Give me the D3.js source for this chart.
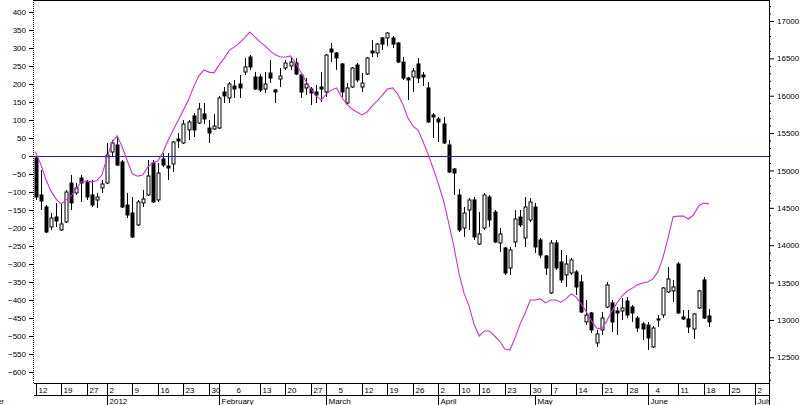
<!DOCTYPE html>
<html lang="en">
  <head>
    <meta charset="UTF-8" />
    <title>Candlestick chart with oscillator</title>
    <script src="https://cdnjs.cloudflare.com/ajax/libs/d3/7.8.5/d3.min.js"></script>
    <style>
      body {
        margin: 0;
        background-color: #fff;
      }
      svg {
        display: block;
        font-family: "Liberation Sans", Arial, sans-serif;
      }
      .date-label {
        font-size: 8px;
        fill: #000;
      }
    </style>
  </head>
  <body>
    <div id="chart"></div>

    <script>
      // Trading calendar (weekdays minus exchange holidays)
      const firstDay = "2011-12-12";
      const lastDay = "2012-07-06";
      const holidays = ["2011-12-26", "2012-04-06", "2012-04-09", "2012-05-01"];

      // Daily prices, right axis
      const open = [
        15167, 14672, 14511, 14244, 14377, 14204, 14311, 14832, 14699, 14899,
        14846, 14672, 14605, 14766, 14832, 15247, 15341, 15113, 14538, 14431,
        14271, 14565, 14672, 15100, 14605, 15154, 15060, 15087, 15421, 15368,
        15542, 15729, 15635, 15756, 15568, 15555, 15568, 16050, 15970, 16130,
        16157, 16318, 16518, 16251, 16251, 16090, 16304, 16077, 16224, 16371,
        16398, 16438, 16278, 16104, 16090, 16050, 16117, 16050, 16625, 16572,
        16425, 15903, 16117, 16411, 16117, 16291, 16599, 16572, 16773, 16773,
        16773, 16706, 16451, 16237, 16251, 16425, 16278, 16104, 15742, 15689,
        15622, 15341, 15020, 14672, 14230, 14471, 14605, 14016, 14230, 14645,
        14444, 14030, 13963, 13695, 14043, 14377, 14097, 14337, 14511, 14070,
        13856, 13361, 14030, 13775, 13602, 13628, 13642, 13508, 12973, 13093,
        12692, 12866, 13173, 13227, 13120, 13120, 13254, 13173, 13026, 12946,
        12932, 12638, 13013, 13066, 13374, 13388, 13749, 13040, 13013, 12879,
        13160, 13535, 13053,
      ];
      const high = [
        15194, 15006, 14538, 14431, 14565, 14565, 14739, 14940, 14832, 14940,
        14873, 14873, 14699, 14873, 15368, 15408, 15448, 15140, 14699, 14645,
        14605, 14739, 15140, 15140, 15100, 15234, 15234, 15395, 15501, 15675,
        15675, 15769, 15903, 15903, 15675, 15756, 15997, 16117, 16184, 16211,
        16278, 16505, 16545, 16318, 16291, 16318, 16478, 16090, 16371, 16478,
        16518, 16505, 16304, 16237, 16117, 16144, 16318, 16559, 16706, 16585,
        16438, 16170, 16385, 16438, 16304, 16518, 16746, 16706, 16786, 16853,
        16799, 16719, 16518, 16251, 16371, 16505, 16318, 16184, 15769, 15716,
        15716, 15408, 15033, 14752, 14511, 14632, 14645, 14444, 14699, 14672,
        14471, 14230, 13976, 13976, 14471, 14471, 14645, 14632, 14565, 14097,
        13869, 14070, 14070, 13936, 13869, 13829, 13669, 13602, 13267, 13106,
        12866, 13106, 13508, 13267, 13173, 13294, 13307, 13200, 13053, 12973,
        12973, 12919, 13066, 13441, 13709, 13535, 13775, 13133, 13133, 13093,
        13401, 13575, 13147,
      ];
      const low = [
        14605, 14471, 14163, 14204, 14244, 14190, 14297, 14471, 14672, 14578,
        14605, 14511, 14498, 14699, 14819, 15180, 15060, 14498, 14364, 14097,
        14257, 14511, 14658, 14565, 14578, 15046, 14873, 14980, 15301, 15354,
        15408, 15448, 15622, 15622, 15368, 15542, 15555, 15903, 15903, 15970,
        15970, 16278, 16345, 16077, 16050, 16037, 16170, 15903, 16117, 16345,
        16345, 16278, 15970, 16010, 15876, 15903, 15916, 15983, 16451, 16345,
        15983, 15889, 16104, 16184, 16050, 16278, 16518, 16518, 16612, 16665,
        16639, 16438, 16211, 15943, 16050, 16170, 16130, 15635, 15435, 15381,
        15354, 14966, 14672, 14177, 14110, 14204, 14070, 14003, 14204, 14244,
        14030, 13909, 13602, 13602, 13976, 14244, 13976, 14311, 13896, 13829,
        13602, 13347, 13669, 13495, 13441, 13602, 13334, 13093, 12933, 12825,
        12638, 12799, 13160, 12839, 12799, 12999, 13026, 12973, 12839, 12732,
        12598, 12625, 12906, 13026, 13361, 13240, 13080, 12999, 12825, 12745,
        13147, 13013, 12906,
      ];
      const close = [
        14645, 14592, 14177, 14364, 14324, 14284, 14712, 14565, 14766, 14832,
        14645, 14538, 14645, 14819, 15207, 15368, 15073, 14511, 14404, 14110,
        14578, 14618, 14926, 14578, 14966, 15073, 15033, 15381, 15394, 15622,
        15649, 15542, 15823, 15689, 15501, 15595, 15970, 15997, 16157, 16090,
        16104, 16385, 16385, 16090, 16077, 16157, 16237, 16050, 16264, 16438,
        16451, 16291, 16050, 16157, 16037, 16010, 16090, 16545, 16585, 16505,
        16050, 16104, 16371, 16211, 16170, 16505, 16572, 16692, 16692, 16839,
        16692, 16451, 16237, 16211, 16331, 16237, 16251, 15649, 15716, 15649,
        15368, 14980, 14966, 14204, 14431, 14605, 14110, 14150, 14672, 14337,
        14043, 14150, 13628, 13936, 14351, 14271, 14511, 14578, 13976, 13869,
        13695, 14030, 13695, 13535, 13749, 13802, 13441, 13106, 13066, 12866,
        12812, 13026, 13468, 12973, 13093, 13160, 13066, 13093, 12892, 12879,
        12759, 12892, 12999, 13428, 13548, 13441, 13093, 13013, 12906, 13080,
        13388, 13026, 12973,
      ];

      // Oscillator, left axis
      const oscillator = [
        11, -22, -64, -97, -119, -133, -122, -111, -89, -72,
        -69, -72, -69, -53, -6, 39, 56, 25, -14, -50,
        -56, -53, -31, -19, -14, 11, 44, 72, 100, 128,
        156, 192, 222, 239, 233, 231, 253, 272, 294, 303,
        314, 328, 344, 331, 317, 306, 292, 281, 275, 275,
        278, 258, 233, 208, 186, 167, 156, 172, 183, 189,
        164, 144, 131, 122, 114, 122, 139, 153, 169, 186,
        189, 172, 144, 106, 83, 72, 39, 3, -36, -78,
        -125, -186, -250, -325, -381, -417, -469, -500, -486, -486,
        -500, -514, -536, -539, -506, -467, -436, -400, -400, -397,
        -408, -400, -400, -406, -397, -383, -392, -411, -433, -458,
        -478, -481, -458, -431, -408, -389, -375, -367, -358, -353,
        -350, -342, -322, -283, -228, -169, -167, -167, -175, -164,
        -139, -131, -133,
      ];

      // Axis labels
      const leftTicks = [
        -600, -550, -500, -450, -400, -350, -300, -250, -200, -150, -100, -50,
        0, 50, 100, 150, 200, 250, 300, 350, 400,
      ];
      const rightTicks = [12500, 13000, 13500, 14000, 14500, 15000, 15500, 16000, 16500, 17000];
      const monthLabels = ["2012", "February", "March", "April", "May", "June", "July"];
      const leadMonthLabel = "December";

      const width = 802;
      const height = 405;
      const plot = { left: 34, right: 769, top: 0, bottom: 383 };
      const row1 = { top: 383, bottom: 395 };
      const row2 = { top: 395, bottom: 405 };

      // Build trading days
      const fmt = d3.timeFormat("%Y-%m-%d");
      const parse = d3.timeParse("%Y-%m-%d");
      const holidaySet = new Set(holidays);
      const tradingDays = d3
        .timeDay.range(parse(firstDay), d3.timeDay.offset(parse(lastDay), 1))
        .filter((d) => d.getDay() !== 0 && d.getDay() !== 6 && !holidaySet.has(fmt(d)));

      const candles = open.map((o, i) => ({
        i: i,
        open: o,
        high: high[i],
        low: low[i],
        close: close[i],
      }));

      // Scales
      const x = d3.scaleLinear().domain([-0.3, 143.8]).range([plot.left, plot.right]);
      const yRight = d3.scaleLinear().domain([12156, 17281]).range([plot.bottom, plot.top]);
      const yLeft = d3.scaleLinear().domain([-630.6, 433.3]).range([plot.bottom, plot.top]);

      const svg = d3
        .select("#chart")
        .append("svg")
        .attr("width", width)
        .attr("height", height)
        .attr("viewBox", [0, 0, width, height]);

      svg.append("rect").attr("width", width).attr("height", height).attr("fill", "#fff");

      const defs = svg.append("defs");
      defs
        .append("clipPath")
        .attr("id", "plot-clip")
        .append("rect")
        .attr("x", plot.left)
        .attr("y", plot.top)
        .attr("width", plot.right - plot.left)
        .attr("height", plot.bottom - plot.top);
      defs
        .append("clipPath")
        .attr("id", "date-clip")
        .append("rect")
        .attr("x", 0)
        .attr("y", row1.top)
        .attr("width", plot.right)
        .attr("height", height - row1.top);

      // Candles
      const plotG = svg.append("g").attr("clip-path", "url(#plot-clip)");

      const candleG = plotG
        .selectAll("g.candle")
        .data(candles)
        .enter()
        .append("g")
        .attr("class", "candle");

      candleG
        .append("line")
        .attr("x1", (d) => Math.round(x(d.i)) + 0.5)
        .attr("x2", (d) => Math.round(x(d.i)) + 0.5)
        .attr("y1", (d) => yRight(d.high))
        .attr("y2", (d) => yRight(d.low))
        .attr("stroke", "#000")
        .attr("stroke-width", 1);

      candleG
        .append("rect")
        .attr("x", (d) => Math.round(x(d.i)) - 1)
        .attr("width", 3)
        .attr("y", (d) => yRight(Math.max(d.open, d.close)))
        .attr("height", (d) => Math.max(1, Math.abs(yRight(d.open) - yRight(d.close))))
        .attr("fill", (d) => (d.close < d.open ? "#000" : "#fff"))
        .attr("stroke", "#000")
        .attr("stroke-width", 1);

      // Zero line of the oscillator
      plotG
        .append("line")
        .attr("x1", plot.left)
        .attr("x2", plot.right)
        .attr("y1", Math.round(yLeft(0)) + 0.5)
        .attr("y2", Math.round(yLeft(0)) + 0.5)
        .attr("stroke", "#2020a8")
        .attr("stroke-width", 1.2);

      // Oscillator line
      const line = d3
        .line()
        .x((d, i) => x(i))
        .y((d) => yLeft(d));

      plotG
        .append("path")
        .datum(oscillator)
        .attr("fill", "none")
        .attr("stroke", "#cc33cc")
        .attr("stroke-width", 1.1)
        .attr("d", line);

      // Frame: top and right
      svg
        .append("line")
        .attr("x1", plot.left)
        .attr("x2", plot.right)
        .attr("y1", 0.5)
        .attr("y2", 0.5)
        .attr("stroke", "#000");
      svg
        .append("line")
        .attr("x1", plot.right + 0.5)
        .attr("x2", plot.right + 0.5)
        .attr("y1", 0)
        .attr("y2", height)
        .attr("stroke", "#000");

      // Left axis: dotted spine, major ticks every 50
      const leftAxis = svg
        .append("g")
        .attr("transform", `translate(${plot.left},0)`)
        .call(d3.axisLeft(yLeft).tickValues(leftTicks).tickSize(5).tickSizeOuter(0));
      leftAxis.select(".domain").remove();
      leftAxis
        .append("line")
        .attr("x1", -0.5)
        .attr("x2", -0.5)
        .attr("y1", plot.top)
        .attr("y2", plot.bottom)
        .attr("stroke", "#000")
        .attr("stroke-dasharray", "1,1");
      leftAxis.selectAll("text").attr("font-size", 8).attr("font-family", "Liberation Sans, Arial, sans-serif");

      // Right axis: major ticks every 500, minor every 100
      const rightAxis = svg
        .append("g")
        .attr("transform", `translate(${plot.right},0)`)
        .call(
          d3
            .axisRight(yRight)
            .tickValues(rightTicks)
            .tickSize(5)
            .tickSizeOuter(0)
            .tickFormat(d3.format("d"))
        );
      rightAxis.select(".domain").remove();
      rightAxis.selectAll("text").attr("font-size", 8).attr("font-family", "Liberation Sans, Arial, sans-serif");

      const minorRight = svg
        .append("g")
        .attr("transform", `translate(${plot.right},0)`)
        .call(
          d3
            .axisRight(yRight)
            .tickValues(d3.range(12200, 17300, 100).filter((v) => v % 500 !== 0))
            .tickSize(2)
            .tickSizeOuter(0)
            .tickFormat("")
        );
      minorRight.select(".domain").remove();

      // Date axis
      const dateG = svg.append("g").attr("clip-path", "url(#date-clip)");

      dateG
        .append("line")
        .attr("x1", plot.left)
        .attr("x2", plot.right)
        .attr("y1", row1.top + 0.5)
        .attr("y2", row1.top + 0.5)
        .attr("stroke", "#000");
      dateG
        .append("line")
        .attr("x1", plot.left)
        .attr("x2", plot.right)
        .attr("y1", row2.top + 0.5)
        .attr("y2", row2.top + 0.5)
        .attr("stroke", "#000");

      // week starts and month starts within the visible range
      const weekStarts = [];
      const monthStarts = [];
      tradingDays.forEach((d, i) => {
        if (x(i) > plot.right) return;
        const prev = tradingDays[i - 1];
        if (!prev || +d3.timeMonday.floor(prev) !== +d3.timeMonday.floor(d)) weekStarts.push(i);
        if (prev && prev.getMonth() !== d.getMonth()) monthStarts.push(i);
      });

      // month start mid-week: boundary line in row 1 replaces the next week line
      const skipWeek = new Set();
      const row1Boundaries = [];
      monthStarts.forEach((m) => {
        if (weekStarts.includes(m)) return;
        const prevWeek = d3.max(weekStarts.filter((w) => w < m));
        const nextWeek = d3.min(weekStarts.filter((w) => w > m));
        if (m - prevWeek >= 2) {
          row1Boundaries.push(m);
          if (nextWeek !== undefined) skipWeek.add(nextWeek);
        }
      });

      const px = (i) => Math.round(x(i)) + 0.5;

      dateG
        .selectAll("line.week")
        .data(weekStarts.filter((w) => !skipWeek.has(w)).concat(row1Boundaries))
        .enter()
        .append("line")
        .attr("class", "week")
        .attr("x1", (i) => px(i))
        .attr("x2", (i) => px(i))
        .attr("y1", row1.top)
        .attr("y2", row1.bottom)
        .attr("stroke", "#000");

      dateG
        .selectAll("text.week")
        .data(weekStarts)
        .enter()
        .append("text")
        .attr("class", "date-label")
        .attr("x", (i) => px(i) + 2)
        .attr("y", row1.bottom - 2)
        .text((i) => d3.timeFormat("%-d")(tradingDays[i]));

      dateG
        .selectAll("line.month")
        .data(monthStarts)
        .enter()
        .append("line")
        .attr("class", "month")
        .attr("x1", (i) => px(i))
        .attr("x2", (i) => px(i))
        .attr("y1", row2.top)
        .attr("y2", row2.bottom)
        .attr("stroke", "#000");

      dateG
        .selectAll("text.month")
        .data(monthStarts)
        .enter()
        .append("text")
        .attr("class", "date-label")
        .attr("x", (i) => px(i) + 2)
        .attr("y", row2.bottom - 1)
        .text((i, k) => monthLabels[k]);

      dateG
        .append("text")
        .attr("class", "date-label")
        .attr("x", 4)
        .attr("y", row2.bottom - 1)
        .attr("text-anchor", "end")
        .text(leadMonthLabel);
    </script>
  </body>
</html>
